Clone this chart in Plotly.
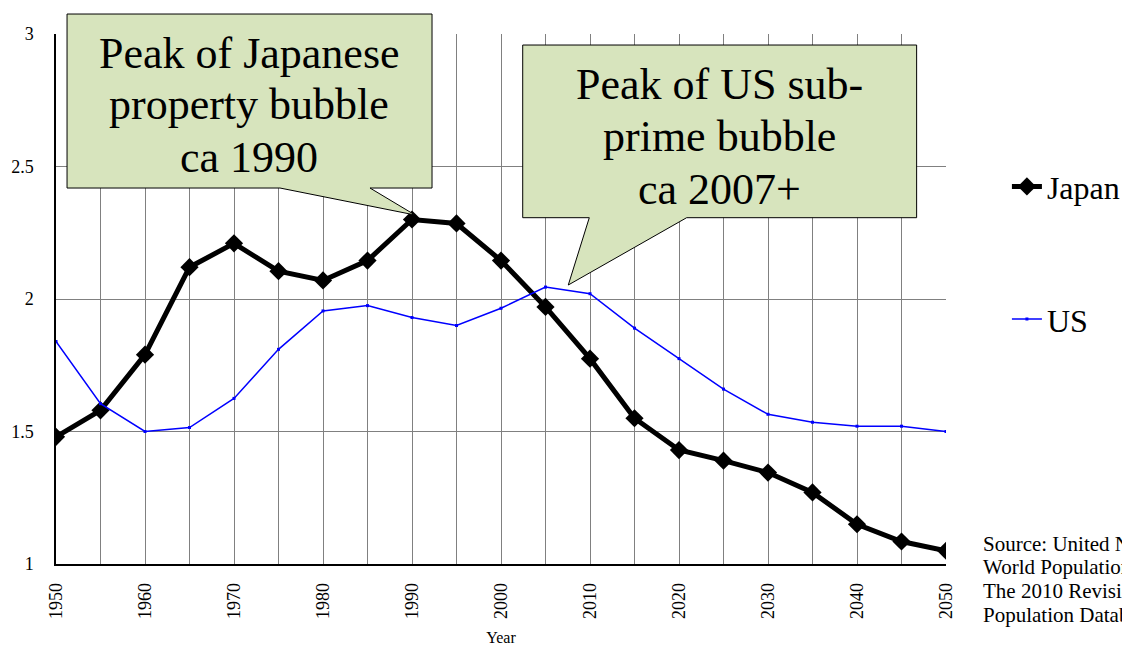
import plotly.graph_objects as go

years = list(range(1950, 2051, 5))
japan = [1.48, 1.58, 1.79, 2.12, 2.21, 2.105, 2.07, 2.145, 2.30, 2.285, 2.145,
         1.97, 1.775, 1.55, 1.43, 1.39, 1.345, 1.27, 1.15, 1.085, 1.05]
us = [1.84, 1.605, 1.50, 1.515, 1.625, 1.81, 1.955, 1.975, 1.93, 1.90, 1.965,
      2.045, 2.02, 1.89, 1.775, 1.66, 1.565, 1.535, 1.52, 1.52, 1.50]

x_ticks = list(range(1950, 2051, 10))
y_ticks = [1, 1.5, 2, 2.5, 3]
y_labels = ["1", "1.5", "2", "2.5", "3"]

jp_lines = ["Peak of Japanese", "property bubble", "ca 1990"]
us_lines = ["Peak of US sub-", "prime bubble", "ca 2007+"]
source_lines = ["Source: United Nations,", "World Population Prospects:",
                "The 2010 Revision,", "Population Database"]

serif = "Liberation Serif, Times New Roman, serif"
callout_fill = "#d7e4bd"

fig = go.Figure()
fig.add_trace(go.Scatter(x=years, y=japan, name="Japan", mode="lines+markers",
                         line=dict(color="black", width=5),
                         marker=dict(symbol="diamond", size=14, color="black"),
                         legendgroup="a"))
fig.add_trace(go.Scatter(x=years, y=us, name="US", mode="lines+markers",
                         line=dict(color="#0000ff", width=1.5),
                         marker=dict(symbol="square", size=3, color="#0000ff"),
                         legendgroup="b"))

# speech-bubble callouts, paper coordinates so they can poke above the plot
bubble_jp = ("M 0.0124,1.0377 L 0.4225,1.0377 L 0.4225,0.7094 L 0.3528,0.7094 "
             "L 0.4034,0.6585 L 0.2517,0.7094 L 0.0124,0.7094 Z")
bubble_us = ("M 0.5244,0.9792 L 0.9670,0.9792 L 0.9670,0.6534 L 0.7086,0.6534 "
             "L 0.5756,0.5264 L 0.5992,0.6534 L 0.5244,0.6534 Z")
for p in (bubble_jp, bubble_us):
    fig.add_shape(type="path", path=p, xref="paper", yref="paper", layer="above",
                  fillcolor=callout_fill, line=dict(color="black", width=1))

for txt, yy in zip(jp_lines, [2.928, 2.735, 2.535]):
    fig.add_annotation(x=1971.7, y=yy, xref="x", yref="y", showarrow=False,
                       text=txt, font=dict(family=serif, size=44, color="black"))
for txt, yy in zip(us_lines, [2.811, 2.615, 2.415]):
    fig.add_annotation(x=2024.5, y=yy, xref="x", yref="y", showarrow=False,
                       text=txt, font=dict(family=serif, size=44, color="black"))

for txt, yy in zip(source_lines, [0.0377, -0.0066, -0.0509, -0.0953]):
    fig.add_annotation(x=1.0393, y=yy, xref="paper", yref="paper", showarrow=False,
                       xanchor="left", yanchor="middle", text=txt,
                       font=dict(family=serif, size=21, color="black"))

fig.update_layout(
    width=1130, height=646,
    margin=dict(l=48, r=192, t=26, b=90),
    paper_bgcolor="white", plot_bgcolor="white",
    font=dict(family=serif, color="black"),
    showlegend=True,
    legend=dict(x=0.884, y=0.766, xref="container", yref="container",
                xanchor="left", yanchor="top",
                font=dict(family=serif, size=32), tracegroupgap=88,
                bgcolor="rgba(0,0,0,0)"),
    xaxis=dict(range=[1950, 2050], tickvals=x_ticks, tickangle=-90,
               tickfont=dict(size=18), showgrid=True, gridcolor="#808080",
               gridwidth=1, showline=True, linecolor="black",
               linewidth=1.5, zeroline=False, ticks="", automargin=False,
               ticklabelstandoff=10,
               title=dict(text="Year", font=dict(size=16), standoff=14)),
    yaxis=dict(range=[1, 3], tickvals=y_ticks, ticktext=y_labels,
               tickfont=dict(size=18), showgrid=True, gridcolor="#808080",
               gridwidth=1, showline=True, linecolor="black", linewidth=1.5,
               zeroline=False, ticks="", ticklabelstandoff=17, automargin=False),
)
# vertical gridlines every 5 years
fig.update_xaxes(minor=dict(tickvals=years, showgrid=True, gridcolor="#808080", gridwidth=1))

fig.write_html("out.html")
